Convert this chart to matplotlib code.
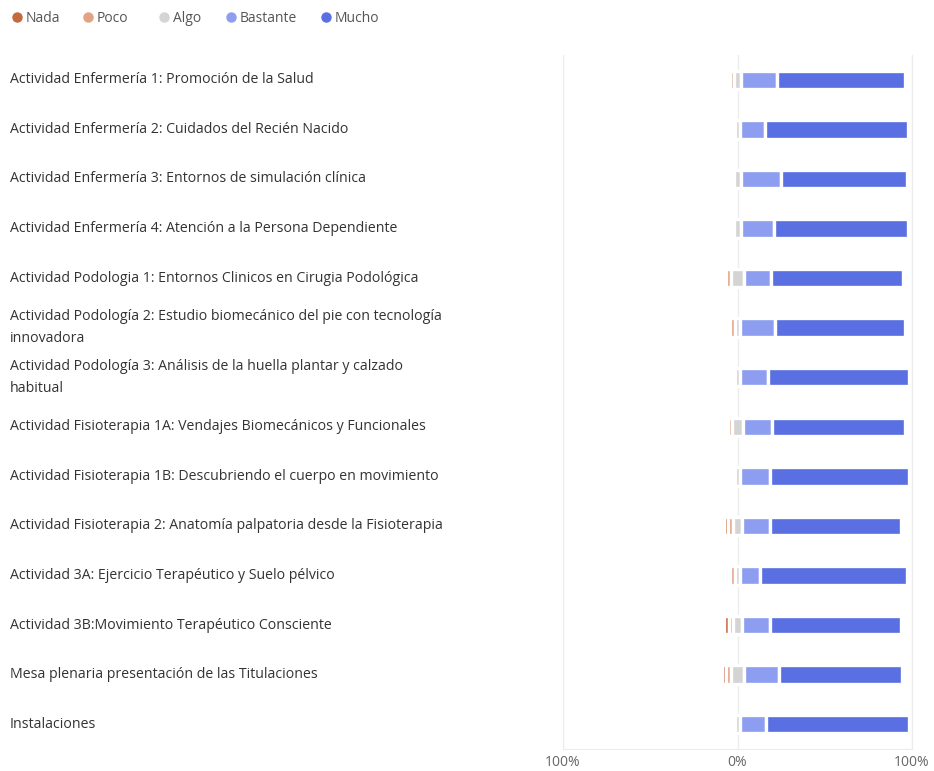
import matplotlib
matplotlib.use("Agg")
import matplotlib.pyplot as plt
import numpy as np
from matplotlib.lines import Line2D
from matplotlib.transforms import blended_transform_factory

plt.rcParams["font.family"] = ["Open Sans", "DejaVu Sans"]

actividades = [
    "Actividad Enfermería 1: Promoción de la Salud",
    "Actividad Enfermería 2: Cuidados del Recién Nacido",
    "Actividad Enfermería 3: Entornos de simulación clínica",
    "Actividad Enfermería 4: Atención a la Persona Dependiente",
    "Actividad Podologia 1: Entornos Clinicos en Cirugia Podológica",
    "Actividad Podología 2: Estudio biomecánico del pie con tecnología\ninnovadora",
    "Actividad Podología 3: Análisis de la huella plantar y calzado\nhabitual",
    "Actividad Fisioterapia 1A: Vendajes Biomecánicos y Funcionales",
    "Actividad Fisioterapia 1B: Descubriendo el cuerpo en movimiento",
    "Actividad Fisioterapia 2: Anatomía palpatoria desde la Fisioterapia",
    "Actividad 3A: Ejercicio Terapéutico y Suelo pélvico",
    "Actividad 3B:Movimiento Terapéutico Consciente",
    "Mesa plenaria presentación de las Titulaciones",
    "Instalaciones",
]

# porcentajes por respuesta
nada = [0, 0, 0, 0, 0, 0, 0, 0, 0, 2.5, 0, 2.5, 2.5, 0]
poco = [2.5, 0, 0, 0, 2.5, 3, 0, 2.5, 0, 3, 3, 2.5, 2.5, 0]
algo = [4, 3, 4, 4, 8, 3, 3, 6, 3, 5, 3, 5, 8, 3]
bastante = [20.5, 14, 23, 19, 15, 20, 16, 17, 17, 16, 11.5, 16, 20, 15]
mucho = [73.5, 82, 72, 76.5, 76, 74.5, 81, 76, 80, 75, 84, 75, 70, 82]

categorias = ["Nada", "Poco", "Algo", "Bastante", "Mucho"]
colores = ["#c5683f", "#e2a283", "#d4d4d4", "#8d9ef0", "#5a70e2"]
ticks = [-100, 0, 100]
tick_labels = ["100%", "0%", "100%"]

W, H = 934, 771
fig = plt.figure(figsize=(W / 100, H / 100), dpi=100)
ax = fig.add_axes([563 / W, 1 - 749 / H, (912 - 563) / W, (749 - 55) / H])

y = np.arange(len(actividades))
nada = np.array(nada, dtype=float)
poco = np.array(poco, dtype=float)
algo = np.array(algo, dtype=float)
bastante = np.array(bastante, dtype=float)
mucho = np.array(mucho, dtype=float)

# segmentos: izquierda negativa, Algo centrado en 0, derecha positiva
segmentos = [
    (nada, -algo / 2 - poco - nada),
    (poco, -algo / 2 - poco),
    (algo, -algo / 2),
    (bastante, algo / 2),
    (mucho, algo / 2 + bastante),
]

h = 0.37
for (width, left), color in zip(segmentos, colores):
    m = width > 0
    ax.barh(y[m], width[m], left=left[m], height=h, color=color,
            edgecolor="white", linewidth=2.4, zorder=3)

ax.set_xlim(-100, 100)
ax.set_ylim(len(actividades) - 0.5, -0.5)
ax.set_xticks(ticks)
ax.set_xticklabels(tick_labels)
ax.set_yticks([])
ax.tick_params(axis="x", length=0, pad=4, labelsize=10, labelcolor="#666666")
ax.grid(axis="x", color="#ececec", linewidth=1, zorder=0)
ax.set_axisbelow(True)
for side in ["left", "right", "bottom"]:
    ax.spines[side].set_color("#ececec")
ax.spines["top"].set_visible(False)

trans = blended_transform_factory(fig.transFigure, ax.transData)
for i, label in enumerate(actividades):
    ax.text(10 / W, i, label, transform=trans, ha="left", va="center",
            fontsize=10.2, color="#333333", linespacing=1.65)

# leyenda manual en la cabecera
legend_x = [17, 88, 164, 231, 326]
ly = 1 - 17 / H
for x, cat, c in zip(legend_x, categorias, colores):
    fig.add_artist(Line2D([x / W], [ly], marker="o", linestyle="",
                          color=c, markersize=6.5, transform=fig.transFigure))
    fig.text((x + 9) / W, ly - 1.5 / H, cat, ha="left", va="center",
             fontsize=10, color="#555555")

fig.savefig("out.png", dpi=100)
